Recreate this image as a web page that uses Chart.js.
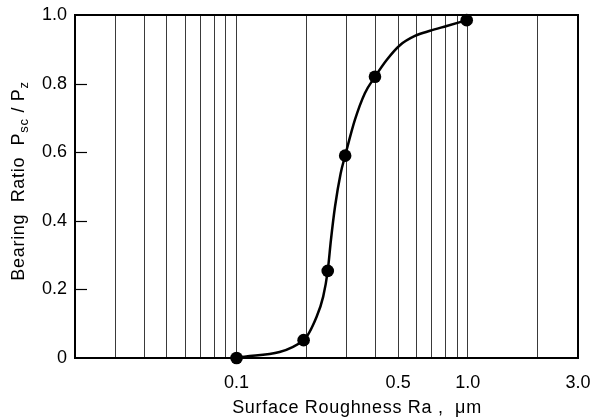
<!DOCTYPE html>
<html>
<head>
<meta charset="utf-8">
<script src="https://cdn.jsdelivr.net/npm/chart.js@4/dist/chart.umd.min.js"></script>
<style>
html,body{margin:0;padding:0;background:#fff;}
#wrap{width:594px;height:417px;position:relative;}
</style>
</head>
<body>
<div id="wrap"><canvas id="c"></canvas></div>
<script>
// Measured points (markers)
const markerRa = [0.1, 0.195, 0.248, 0.295, 0.397, 0.99];
const markerRatio = [0, 0.052, 0.254, 0.59, 0.82, 0.985];
// Fitted curve
const curveRa = [0.1, 0.195, 0.222, 0.237, 0.248, 0.256, 0.2666, 0.282, 0.295, 0.325, 0.359, 0.397, 0.446, 0.509, 0.591, 0.687, 0.811, 0.99];
const curveRatio = [0, 0.052, 0.12, 0.179, 0.254, 0.344, 0.441, 0.538, 0.59, 0.694, 0.772, 0.82, 0.869, 0.912, 0.939, 0.954, 0.968, 0.985];
// Axis ticks
const xGridValues = [0.02,0.03,0.04,0.05,0.06,0.07,0.08,0.09,0.1,0.2,0.3,0.4,0.5,0.6,0.7,0.8,0.9,1.0,2.0,3.0];
const xLabelValues = [0.1, 0.5, 1.0, 3.0];
const xLabelTexts = ['0.1', '0.5', '1.0', '3.0'];
const yTickValues = [0, 0.2, 0.4, 0.6, 0.8, 1.0];
const yTickTexts = ['0', '0.2', '0.4', '0.6', '0.8', '1.0'];

const FONT = '"Liberation Sans", Arial, Helvetica, sans-serif';
const AREA = {left: 75, right: 578, top: 15, bottom: 358};

const framePlugin = {
  id: 'frame',
  afterDraw(chart) {
    const ctx = chart.ctx, a = chart.chartArea;
    const y = chart.scales.y;
    ctx.save();
    // inner y ticks
    ctx.strokeStyle = '#000';
    ctx.lineWidth = 1.2;
    yTickValues.forEach(v => {
      if (v === 0 || v === 1) return;
      const py = Math.round(y.getPixelForValue(v)) + 0.5;
      ctx.beginPath(); ctx.moveTo(a.left, py); ctx.lineTo(a.left + 12, py); ctx.stroke();
    });
    // frame
    ctx.lineWidth = 2;
    ctx.strokeRect(a.left, a.top, a.right - a.left, a.bottom - a.top);
    // x title
    ctx.fillStyle = '#000';
    ctx.font = '18px ' + FONT;
    try { ctx.letterSpacing = '0.7px'; } catch (e) {}
    ctx.textAlign = 'center';
    ctx.textBaseline = 'alphabetic';
    ctx.fillText('Surface Roughness Ra ,  \u03BCm', 357, 413);
    // y title with subscripts
    const parts = [
      ['Bearing  Ratio  P', 18, 0],
      ['sc', 13, 4],
      [' / P', 18, 0],
      ['z', 13, 4]
    ];
    let total = 0;
    parts.forEach(p => { ctx.font = p[1] + 'px ' + FONT; total += ctx.measureText(p[0]).width; });
    ctx.translate(24, 181 + total / 2);
    ctx.rotate(-Math.PI / 2);
    ctx.textAlign = 'left';
    let xx = 0;
    parts.forEach(p => {
      ctx.font = p[1] + 'px ' + FONT;
      ctx.fillText(p[0], xx, p[2]);
      xx += ctx.measureText(p[0]).width;
    });
    ctx.restore();
  }
};

new Chart(document.getElementById('c'), {
  type: 'scatter',
  data: {
    datasets: [
      {
        label: 'curve',
        data: curveRa.map((x, i) => ({x: x, y: curveRatio[i]})),
        showLine: true,
        borderColor: '#000',
        borderWidth: 2.5,
        pointRadius: 0,
        cubicInterpolationMode: 'monotone',
        fill: false
      },
      {
        label: 'measured',
        data: markerRa.map((x, i) => ({x: x, y: markerRatio[i]})),
        showLine: false,
        pointRadius: 6.3,
        pointBackgroundColor: '#000',
        pointBorderColor: '#000',
        pointBorderWidth: 0
      }
    ]
  },
  options: {
    responsive: true,
    maintainAspectRatio: false,
    animation: false,
    clip: false,
    layout: {padding: {left: 0, right: 594 - AREA.right, top: AREA.top, bottom: 0}},
    plugins: {legend: {display: false}, tooltip: {enabled: false}},
    scales: {
      x: {
        type: 'logarithmic',
        min: 0.02,
        max: 3.0,
        afterBuildTicks(scale) { scale.ticks = xGridValues.map(v => ({value: v})); },
        afterFit(scale) { scale.height = 417 - AREA.bottom; scale.paddingLeft = 0; scale.paddingRight = 0; },
        border: {display: false},
        grid: {color: '#3a3a3a', lineWidth: 1, drawTicks: false},
        ticks: {
          autoSkip: false, maxRotation: 0, minRotation: 0, padding: 14,
          color: '#000', font: {family: FONT, size: 18},
          callback(v) { const i = xLabelValues.findIndex(t => Math.abs(t - v) < 1e-9); return i >= 0 ? xLabelTexts[i] : ''; }
        }
      },
      y: {
        min: 0, max: 1,
        afterBuildTicks(scale) { scale.ticks = yTickValues.map(v => ({value: v})); },
        afterFit(scale) { scale.width = AREA.left; scale.paddingTop = 0; scale.paddingBottom = 0; },
        border: {display: false},
        grid: {display: false, drawTicks: false},
        ticks: {
          padding: 8, color: '#000', font: {family: FONT, size: 18},
          callback(v) { const i = yTickValues.findIndex(t => Math.abs(t - v) < 1e-9); return i >= 0 ? yTickTexts[i] : ''; }
        }
      }
    }
  },
  plugins: [framePlugin]
});
</script>
</body>
</html>
